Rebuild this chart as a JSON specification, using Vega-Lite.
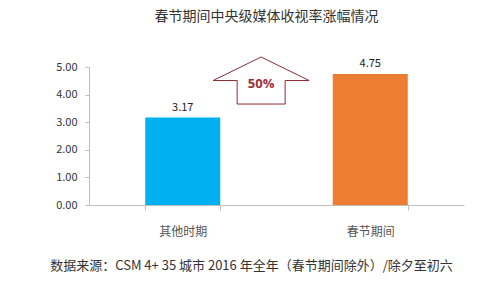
{
  "$schema": "https://vega.github.io/schema/vega-lite/v6.json",
  "width": 375,
  "height": 138,
  "autosize": {"type": "none"},
  "padding": {"left": 89, "top": 67, "right": 29, "bottom": 84},
  "background": "white",
  "config": {
    "view": {"stroke": null},
    "font": "Noto Sans CJK SC",
    "axisY": {
      "title": null, "grid": false, "format": ".2f",
      "values": [0, 1, 2, 3, 4, 5], "labelOverlap": false,
      "labelFontSize": 11, "labelColor": "#333333", "labelPadding": 8,
      "domainColor": "#bfbfbf", "tickColor": "#bfbfbf", "tickSize": 4
    }
  },
  "title": {
    "text": "春节期间中央级媒体收视率涨幅情况",
    "fontSize": 14,
    "fontWeight": "normal",
    "color": "#333333",
    "anchor": "middle",
    "dx": -10,
    "offset": 31
  },
  "layer": [
    {
      "data": {"values": [
        {"period": "其他时期", "rating": 3.17},
        {"period": "春节期间", "rating": 4.75}
      ]},
      "layer": [
        {
          "mark": {"type": "bar"},
          "encoding": {
            "x": {
              "field": "period", "type": "nominal", "sort": null,
              "scale": {"paddingInner": 0.6, "paddingOuter": 0.3},
              "axis": {
                "labelAngle": 0, "labelFontSize": 12, "labelColor": "#555555",
                "labelPadding": 16, "domainColor": "#bfbfbf", "tickColor": "#bfbfbf",
                "tickBand": "extent", "tickSize": 5,
                "title": "数据来源：CSM  4+ 35 城市  2016 年全年（春节期间除外）/除夕至初六",
                "titleFontSize": 13, "titleFontWeight": "normal", "titleColor": "#333333",
                "titleX": 162, "titlePadding": 22
              }
            },
            "y": {
              "field": "rating", "type": "quantitative",
              "scale": {"domain": [0, 5]},
              "axis": {"values": [0, 1, 2, 3, 4, 5], "format": ".2f", "title": null}
            },
            "color": {
              "field": "period", "type": "nominal", "sort": null,
              "scale": {"range": ["#00b0f0", "#ed7d31"]},
              "legend": null
            }
          }
        },
        {
          "mark": {"type": "text", "dy": -10, "fontSize": 11, "color": "#222222"},
          "encoding": {
            "x": {"field": "period", "type": "nominal", "sort": null},
            "y": {"field": "rating", "type": "quantitative", "axis": {"values": [0, 1, 2, 3, 4, 5], "format": ".2f", "title": null}},
            "text": {"field": "rating", "type": "quantitative", "format": ".2f"}
          }
        }
      ]
    },
    {
      "data": {"values": [{"pos": 0.459, "rating": 4.51, "label": "50%"}]},
      "layer": [
        {
          "mark": {
            "type": "point",
            "shape": "M0,-0.49 L1,0 L0.5,0 L0.5,0.49 L-0.5,0.49 L-0.5,0 L-1,0 Z",
            "size": 9216,
            "filled": true,
            "fill": "white",
            "stroke": "#8c2d33",
            "strokeWidth": 1,
            "opacity": 1
          },
          "encoding": {
            "x": {"field": "pos", "type": "quantitative", "scale": {"domain": [0, 1]}, "axis": null},
            "y": {"field": "rating", "type": "quantitative", "axis": {"values": [0, 1, 2, 3, 4, 5], "format": ".2f", "title": null}}
          }
        },
        {
          "mark": {"type": "text", "fontSize": 13, "fontWeight": "bold", "color": "#9c2f36", "dy": 3, "font": "Open Sans"},
          "encoding": {
            "x": {"field": "pos", "type": "quantitative", "scale": {"domain": [0, 1]}, "axis": null},
            "y": {"field": "rating", "type": "quantitative", "axis": {"values": [0, 1, 2, 3, 4, 5], "format": ".2f", "title": null}},
            "text": {"field": "label"}
          }
        }
      ]
    }
  ],
  "resolve": {"scale": {"x": "independent"}, "axis": {"x": "independent"}}
}
